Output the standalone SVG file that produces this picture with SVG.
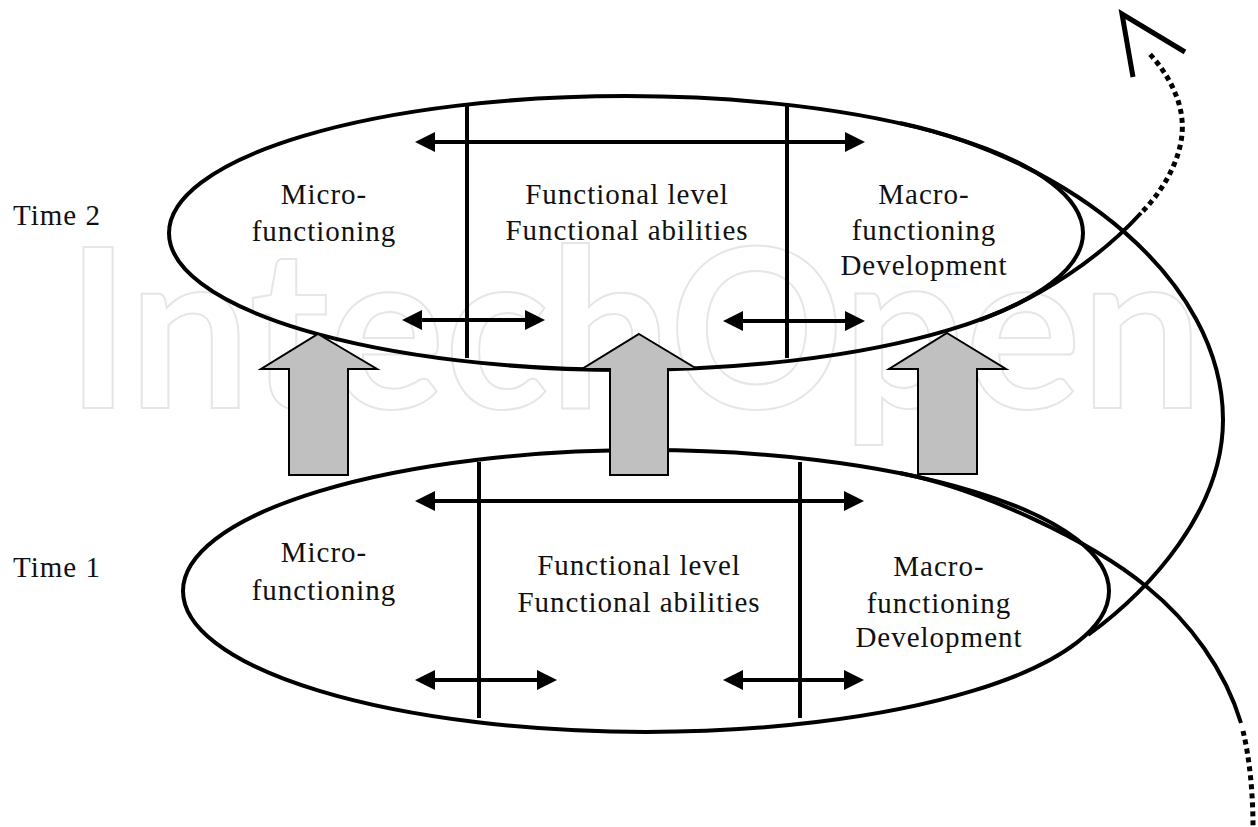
<svg xmlns="http://www.w3.org/2000/svg" width="1258" height="827" viewBox="0 0 1258 827">
<style>
.bg{fill:#fff}
.wm{font-family:Lato,"Open Sans",sans-serif;font-weight:700;font-size:222px;fill:none;stroke:#e6e6e6;stroke-width:2}
.ell{fill:none;stroke:#000;stroke-width:4}
.vl{stroke:#000;stroke-width:4}
.da{stroke:#000;stroke-width:4;marker-start:url(#ah);marker-end:url(#ah)}
.t{font-family:"Liberation Serif","Times New Roman",serif;font-size:29px;letter-spacing:1px;fill:#111;text-anchor:middle}
.lbl{font-family:"Liberation Serif","Times New Roman",serif;font-size:29px;letter-spacing:1px;fill:#111}
.up{fill:#c0c0c0;stroke:#000;stroke-width:2;stroke-linejoin:miter}
.sp{fill:none;stroke:#000;stroke-width:4}
.dot{fill:none;stroke:#000;stroke-width:5;stroke-dasharray:5 4}
</style>
<defs>
<marker id="ah" markerUnits="userSpaceOnUse" markerWidth="20" markerHeight="20" refX="10" refY="10" orient="auto-start-reverse" viewBox="0 0 20 20">
<path d="M0,0 L20,10 L0,20 z" fill="#000"/>
</marker>
</defs>
<rect class="bg" x="0" y="0" width="1258" height="827"/>
<text class="wm" x="66" y="408" textLength="1137" lengthAdjust="spacingAndGlyphs">IntechOpen</text>

<g id="label-time2"><text class="lbl" x="13" y="225">Time 2</text></g>
<g id="label-time1"><text class="lbl" x="13" y="577">Time 1</text></g>

<g id="time2">
<ellipse class="ell" cx="626" cy="233" rx="457" ry="137"/>
<line class="vl" x1="467" y1="103" x2="467" y2="358"/>
<line class="vl" x1="787" y1="103" x2="787" y2="358"/>
<line class="da" x1="425" y1="142" x2="855" y2="142"/>
<line class="da" x1="412" y1="320" x2="535" y2="320"/>
<line class="da" x1="733" y1="321" x2="855" y2="321"/>
<text class="t" x="324" y="204">Micro-</text>
<text class="t" x="324" y="241">functioning</text>
<text class="t" x="627" y="204">Functional level</text>
<text class="t" x="627" y="240">Functional abilities</text>
<text class="t" x="924" y="204">Macro-</text>
<text class="t" x="924" y="240">functioning</text>
<text class="t" x="924" y="275">Development</text>
</g>

<g id="time1">
<ellipse class="ell" cx="646" cy="591" rx="463" ry="141"/>
<line class="vl" x1="479" y1="462" x2="479" y2="718"/>
<line class="vl" x1="800" y1="462" x2="800" y2="718"/>
<line class="da" x1="425" y1="501" x2="854" y2="501"/>
<line class="da" x1="425" y1="680" x2="547" y2="680"/>
<line class="da" x1="733" y1="680" x2="854" y2="680"/>
<text class="t" x="324" y="562">Micro-</text>
<text class="t" x="324" y="600">functioning</text>
<text class="t" x="639" y="575">Functional level</text>
<text class="t" x="639" y="612">Functional abilities</text>
<text class="t" x="939" y="576">Macro-</text>
<text class="t" x="939" y="613">functioning</text>
<text class="t" x="939" y="647">Development</text>
</g>

<g id="connectors">
<path class="up" d="M318,334 L377,369 L348,369 L348,475 L289,475 L289,369 L261,369 Z"/>
<path class="up" d="M639,334 L697,369 L668,369 L668,475 L610,475 L610,369 L582,369 Z"/>
<path class="up" d="M947,333 L1006,369 L977,369 L977,474 L918,474 L918,369 L889,369 Z"/>
<path class="sp" d="M900,123 C1070,160 1223,280 1223,420 C1223,510 1150,590 1088,635"/>
<path class="sp" d="M900,473 C980,489 1090,540 1147,587 C1190,622 1225,670 1241,723"/>
<path class="dot" d="M1243,731 C1250,760 1253,795 1253,827"/>
<path class="sp" d="M980,320 C1040,298 1100,258 1141,213"/>
<path class="dot" d="M1143,211 C1168,185 1185,150 1182,120 C1180,95 1165,70 1148,52"/>
<path fill="none" stroke="#000" stroke-width="5" stroke-linejoin="miter" d="M1133,77 L1122,14 L1185,52"/>
</g>
</svg>
